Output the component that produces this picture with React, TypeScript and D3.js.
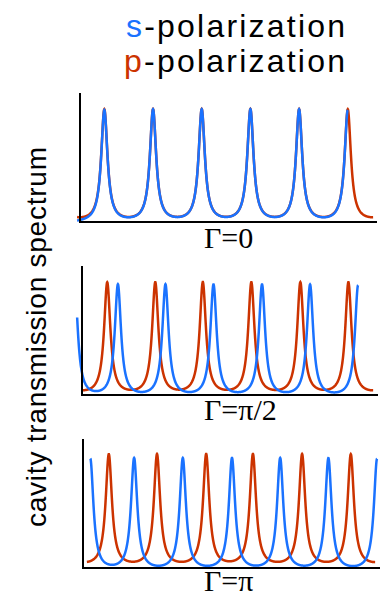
import React from 'react';
import * as d3 from 'd3';

const W = 381;
const H = 597;

// panel captions
const panelLabels = ['Γ=0', 'Γ=π/2', 'Γ=π'];

// resonance centres, in free spectral ranges
const sPeaks = [
  [0.5, 1.5, 2.5, 3.5, 4.5, 5.5],
  [-0.15, 0.74, 1.72, 2.71, 3.71, 4.7, 5.69],
  [0.15, 1.05, 2.05, 3.06, 4.05, 5.04, 6.04],
];
const pPeaks = [
  [-0.5, 0.5, 1.5, 2.5, 3.5, 4.5, 5.5, 6.5],
  [-0.48, 0.52, 1.51, 2.49, 3.49, 4.5, 5.49, 6.5],
  [-0.47, 0.53, 1.52, 2.53, 3.49, 4.5, 5.5, 6.5],
];
// where each trace starts and stops
const sSpan = [[-0.06, 5.5], [-0.1, 5.69], [0.15, 6.04]];
const pSpan = [[-0.06, 6.02], [0.02, 6.0], [0.08, 6.0]];
// small baseline offsets of each trace
const sShift = [-0.01, -0.03, -0.035];
const pShift = [-0.01, -0.01, 0.0];
// half width at half maximum of a resonance
const hwhm = 0.078;

const S_COLOR = '#1a72ff';
const P_COLOR = '#cc3300';

// panel frames: left, right, x-axis y
const frames = [
  { left: 80, right: 377, base: 222 },
  { left: 82, right: 378, base: 395 },
  { left: 83, right: 380, base: 568 },
];
const labelY = [248, 420, 591];

function trace(peaks: number[], span: number[], shift: number) {
  const xs = d3.range(span[0], span[1], 0.004).concat([span[1]]);
  return xs.map((x) => {
    const v = d3.sum(peaks, (c) => (hwhm * hwhm) / ((x - c) * (x - c) + hwhm * hwhm));
    return [x, v + shift] as [number, number];
  });
}

function Panel({ i }: { i: number }) {
  const f = frames[i];
  const x = d3.scaleLinear().domain([0, 6.1]).range([f.left, f.right]);
  const y = d3.scaleLinear().domain([0, 1.15]).range([f.base, f.base - 129]);
  const line = d3
    .line<[number, number]>()
    .x((d) => x(d[0]))
    .y((d) => y(d[1]));
  const p = trace(pPeaks[i], pSpan[i], pShift[i]);
  const s = trace(sPeaks[i], sSpan[i], sShift[i]);
  return (
    <g>
      <path d={line(p) || ''} fill="none" stroke={P_COLOR} strokeWidth={2.5} />
      <path d={line(s) || ''} fill="none" stroke={S_COLOR} strokeWidth={2.5} />
      <line x1={x(0)} x2={x(0)} y1={y(1.15)} y2={f.base + 1} stroke="#000" strokeWidth={2} />
      <line x1={x(0) - 1} x2={f.right} y1={f.base} y2={f.base} stroke="#000" strokeWidth={2} />
      <text
        x={204}
        y={labelY[i]}
        fontFamily="'Liberation Serif', 'Times New Roman', serif"
        fontSize={30}
        fill="#000"
      >
        {panelLabels[i]}
      </text>
    </g>
  );
}

export default function App() {
  return (
    <svg
      width={W}
      height={H}
      style={{ position: 'absolute', left: 0, top: 0, background: '#fff' }}
    >
      <rect width={W} height={H} fill="#fff" />
      <g fontFamily="'Liberation Sans', Arial, sans-serif" fontSize={32} fill="#000">
        <text x={126} y={37} textLength={219} lengthAdjust="spacing">
          <tspan fill={S_COLOR}>s</tspan>
          <tspan>-polarization</tspan>
        </text>
        <text x={124} y={72} textLength={221} lengthAdjust="spacing">
          <tspan fill={P_COLOR}>p</tspan>
          <tspan>-polarization</tspan>
        </text>
      </g>
      <text
        transform="translate(46,337) rotate(-90)"
        textAnchor="middle"
        fontFamily="'Liberation Sans', Arial, sans-serif"
        fontSize={28}
        textLength={380}
        lengthAdjust="spacing"
        fill="#000"
      >
        cavity transmission spectrum
      </text>
      {[0, 1, 2].map((i) => (
        <Panel key={i} i={i} />
      ))}
    </svg>
  );
}
